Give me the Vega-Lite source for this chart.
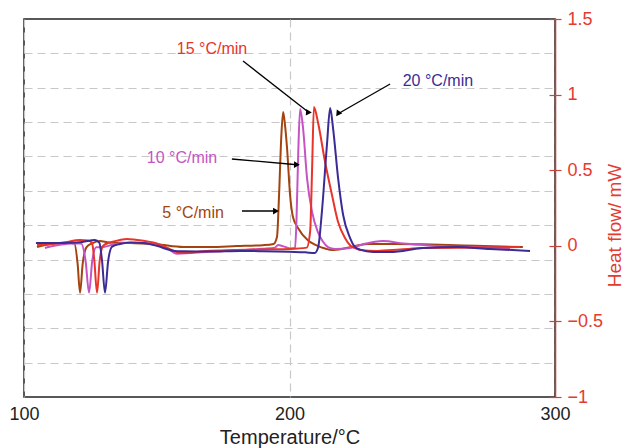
{
  "$schema": "https://vega.github.io/schema/vega-lite/v6.json",
  "width": 531,
  "height": 378,
  "autosize": {"type": "none"},
  "padding": {"left": 24, "top": 19, "right": 70, "bottom": 51},
  "background": "white",
  "config": {"view": {"stroke": "#222", "strokeWidth": 1.5}, "font": "Liberation Sans"},
  "datasets": {
    "series": [
      {"s": "5 °C/min", "t": 104.9, "h": -0.008},
      {"s": "5 °C/min", "t": 108, "h": 0.005},
      {"s": "5 °C/min", "t": 112, "h": 0.015},
      {"s": "5 °C/min", "t": 116, "h": 0.02},
      {"s": "5 °C/min", "t": 119.0, "h": 0.015},
      {"s": "5 °C/min", "t": 120.2, "h": -0.12},
      {"s": "5 °C/min", "t": 121.1, "h": -0.31},
      {"s": "5 °C/min", "t": 122.1, "h": -0.12},
      {"s": "5 °C/min", "t": 123.5, "h": -0.01},
      {"s": "5 °C/min", "t": 125.5, "h": 0.015},
      {"s": "5 °C/min", "t": 128.6, "h": 0.032},
      {"s": "5 °C/min", "t": 132, "h": 0.022},
      {"s": "5 °C/min", "t": 140, "h": 0.018},
      {"s": "5 °C/min", "t": 150, "h": 0.01},
      {"s": "5 °C/min", "t": 160, "h": -0.008},
      {"s": "5 °C/min", "t": 170, "h": -0.008},
      {"s": "5 °C/min", "t": 180, "h": -0.002},
      {"s": "5 °C/min", "t": 190, "h": 0.004},
      {"s": "5 °C/min", "t": 194.0, "h": 0.012},
      {"s": "5 °C/min", "t": 195.3, "h": 0.06},
      {"s": "5 °C/min", "t": 196.1, "h": 0.35},
      {"s": "5 °C/min", "t": 196.9, "h": 0.72},
      {"s": "5 °C/min", "t": 197.6, "h": 0.885},
      {"s": "5 °C/min", "t": 198.3, "h": 0.8},
      {"s": "5 °C/min", "t": 199.1, "h": 0.64},
      {"s": "5 °C/min", "t": 200.2, "h": 0.34},
      {"s": "5 °C/min", "t": 201.3, "h": 0.19},
      {"s": "5 °C/min", "t": 203.2, "h": 0.118},
      {"s": "5 °C/min", "t": 207.0, "h": 0.035},
      {"s": "5 °C/min", "t": 210, "h": 0.005},
      {"s": "5 °C/min", "t": 213.4, "h": -0.018},
      {"s": "5 °C/min", "t": 216.0, "h": -0.028},
      {"s": "5 °C/min", "t": 220, "h": -0.02},
      {"s": "5 °C/min", "t": 224, "h": -0.005},
      {"s": "5 °C/min", "t": 229.2, "h": 0.012},
      {"s": "5 °C/min", "t": 240, "h": 0.012},
      {"s": "5 °C/min", "t": 250, "h": 0.01},
      {"s": "5 °C/min", "t": 260, "h": 0.006},
      {"s": "5 °C/min", "t": 270, "h": 0.0},
      {"s": "5 °C/min", "t": 280, "h": -0.005},
      {"s": "5 °C/min", "t": 287.9, "h": -0.008},

      {"s": "10 °C/min", "t": 107.9, "h": -0.015},
      {"s": "10 °C/min", "t": 110, "h": -0.005},
      {"s": "10 °C/min", "t": 114, "h": 0.008},
      {"s": "10 °C/min", "t": 118, "h": 0.015},
      {"s": "10 °C/min", "t": 121.5, "h": 0.015},
      {"s": "10 °C/min", "t": 123.2, "h": -0.1},
      {"s": "10 °C/min", "t": 124.5, "h": -0.31},
      {"s": "10 °C/min", "t": 125.7, "h": -0.1},
      {"s": "10 °C/min", "t": 127.2, "h": -0.01},
      {"s": "10 °C/min", "t": 130, "h": -0.008},
      {"s": "10 °C/min", "t": 133, "h": 0.005},
      {"s": "10 °C/min", "t": 137, "h": 0.018},
      {"s": "10 °C/min", "t": 142, "h": 0.02},
      {"s": "10 °C/min", "t": 150, "h": 0.008},
      {"s": "10 °C/min", "t": 154, "h": -0.015},
      {"s": "10 °C/min", "t": 157.6, "h": -0.052},
      {"s": "10 °C/min", "t": 162.5, "h": -0.048},
      {"s": "10 °C/min", "t": 170, "h": -0.04},
      {"s": "10 °C/min", "t": 180, "h": -0.03},
      {"s": "10 °C/min", "t": 190, "h": -0.02},
      {"s": "10 °C/min", "t": 194.5, "h": -0.012},
      {"s": "10 °C/min", "t": 195.7, "h": 0.005},
      {"s": "10 °C/min", "t": 197.5, "h": -0.002},
      {"s": "10 °C/min", "t": 200.5, "h": -0.018},
      {"s": "10 °C/min", "t": 202.1, "h": -0.015},
      {"s": "10 °C/min", "t": 202.6, "h": 0.15},
      {"s": "10 °C/min", "t": 203.3, "h": 0.62},
      {"s": "10 °C/min", "t": 204.0, "h": 0.905},
      {"s": "10 °C/min", "t": 205.1, "h": 0.779},
      {"s": "10 °C/min", "t": 206.6, "h": 0.448},
      {"s": "10 °C/min", "t": 208.5, "h": 0.224},
      {"s": "10 °C/min", "t": 210.7, "h": 0.091},
      {"s": "10 °C/min", "t": 212.5, "h": 0.03},
      {"s": "10 °C/min", "t": 214.5, "h": -0.008},
      {"s": "10 °C/min", "t": 217.1, "h": -0.021},
      {"s": "10 °C/min", "t": 222.8, "h": -0.015},
      {"s": "10 °C/min", "t": 228, "h": 0.012},
      {"s": "10 °C/min", "t": 235.2, "h": 0.032},
      {"s": "10 °C/min", "t": 243, "h": 0.015},
      {"s": "10 °C/min", "t": 250.3, "h": 0.005},
      {"s": "10 °C/min", "t": 260, "h": -0.005},
      {"s": "10 °C/min", "t": 270, "h": -0.01},
      {"s": "10 °C/min", "t": 283, "h": -0.015},

      {"s": "15 °C/min", "t": 104.9, "h": 0.005},
      {"s": "15 °C/min", "t": 110, "h": 0.012},
      {"s": "15 °C/min", "t": 115, "h": 0.022},
      {"s": "15 °C/min", "t": 121.1, "h": 0.038},
      {"s": "15 °C/min", "t": 124, "h": 0.035},
      {"s": "15 °C/min", "t": 125.6, "h": 0.02},
      {"s": "15 °C/min", "t": 126.5, "h": -0.1},
      {"s": "15 °C/min", "t": 127.5, "h": -0.31},
      {"s": "15 °C/min", "t": 128.5, "h": -0.1},
      {"s": "15 °C/min", "t": 129.8, "h": 0.0},
      {"s": "15 °C/min", "t": 132.4, "h": 0.022},
      {"s": "15 °C/min", "t": 136, "h": 0.038},
      {"s": "15 °C/min", "t": 138.8, "h": 0.045},
      {"s": "15 °C/min", "t": 142, "h": 0.04},
      {"s": "15 °C/min", "t": 150, "h": 0.015},
      {"s": "15 °C/min", "t": 155, "h": -0.022},
      {"s": "15 °C/min", "t": 158.8, "h": -0.048},
      {"s": "15 °C/min", "t": 162.5, "h": -0.046},
      {"s": "15 °C/min", "t": 168.9, "h": -0.034},
      {"s": "15 °C/min", "t": 180, "h": -0.028},
      {"s": "15 °C/min", "t": 190, "h": -0.024},
      {"s": "15 °C/min", "t": 200, "h": -0.021},
      {"s": "15 °C/min", "t": 206.5, "h": -0.012},
      {"s": "15 °C/min", "t": 207.8, "h": 0.1},
      {"s": "15 °C/min", "t": 208.5, "h": 0.5},
      {"s": "15 °C/min", "t": 209.2, "h": 0.918},
      {"s": "15 °C/min", "t": 210.7, "h": 0.819},
      {"s": "15 °C/min", "t": 213.4, "h": 0.554},
      {"s": "15 °C/min", "t": 216.0, "h": 0.336},
      {"s": "15 °C/min", "t": 218.3, "h": 0.157},
      {"s": "15 °C/min", "t": 220.9, "h": 0.052},
      {"s": "15 °C/min", "t": 223.0, "h": 0.0},
      {"s": "15 °C/min", "t": 224.7, "h": -0.015},
      {"s": "15 °C/min", "t": 226.6, "h": -0.028},
      {"s": "15 °C/min", "t": 233, "h": -0.034},
      {"s": "15 °C/min", "t": 241.6, "h": -0.025},
      {"s": "15 °C/min", "t": 250.3, "h": -0.015},
      {"s": "15 °C/min", "t": 270, "h": -0.012},
      {"s": "15 °C/min", "t": 286.8, "h": -0.008},

      {"s": "20 °C/min", "t": 104.5, "h": 0.019},
      {"s": "20 °C/min", "t": 110, "h": 0.019},
      {"s": "20 °C/min", "t": 117.3, "h": 0.02},
      {"s": "20 °C/min", "t": 122, "h": 0.025},
      {"s": "20 °C/min", "t": 126.7, "h": 0.038},
      {"s": "20 °C/min", "t": 128.4, "h": 0.02},
      {"s": "20 °C/min", "t": 129.4, "h": -0.1},
      {"s": "20 °C/min", "t": 130.5, "h": -0.31},
      {"s": "20 °C/min", "t": 131.7, "h": -0.1},
      {"s": "20 °C/min", "t": 133.2, "h": -0.005},
      {"s": "20 °C/min", "t": 136.2, "h": 0.012},
      {"s": "20 °C/min", "t": 140, "h": 0.022},
      {"s": "20 °C/min", "t": 145, "h": 0.018},
      {"s": "20 °C/min", "t": 150, "h": 0.0},
      {"s": "20 °C/min", "t": 156.1, "h": -0.032},
      {"s": "20 °C/min", "t": 160, "h": -0.036},
      {"s": "20 °C/min", "t": 170, "h": -0.038},
      {"s": "20 °C/min", "t": 181.4, "h": -0.034},
      {"s": "20 °C/min", "t": 190, "h": -0.036},
      {"s": "20 °C/min", "t": 200, "h": -0.04},
      {"s": "20 °C/min", "t": 206, "h": -0.043},
      {"s": "20 °C/min", "t": 209.5, "h": -0.048},
      {"s": "20 °C/min", "t": 210.8, "h": -0.01},
      {"s": "20 °C/min", "t": 212.2, "h": 0.224},
      {"s": "20 °C/min", "t": 214.1, "h": 0.667},
      {"s": "20 °C/min", "t": 215.3, "h": 0.911},
      {"s": "20 °C/min", "t": 216.4, "h": 0.779},
      {"s": "20 °C/min", "t": 218.3, "h": 0.448},
      {"s": "20 °C/min", "t": 220.2, "h": 0.204},
      {"s": "20 °C/min", "t": 222.8, "h": 0.052},
      {"s": "20 °C/min", "t": 224.5, "h": -0.005},
      {"s": "20 °C/min", "t": 226.6, "h": -0.025},
      {"s": "20 °C/min", "t": 231.5, "h": -0.041},
      {"s": "20 °C/min", "t": 237.9, "h": -0.041},
      {"s": "20 °C/min", "t": 250.3, "h": -0.015},
      {"s": "20 °C/min", "t": 263.1, "h": -0.008},
      {"s": "20 °C/min", "t": 275.5, "h": -0.021},
      {"s": "20 °C/min", "t": 290.6, "h": -0.034}
    ],
    "arrows": [
      {"s": "15 °C/min", "t0": 182.5, "h0": 1.222, "t1": 207.3, "h1": 0.882},
      {"s": "20 °C/min", "t0": 237.9, "h0": 1.07, "t1": 218.8, "h1": 0.878},
      {"s": "10 °C/min", "t0": 178.3, "h0": 0.574, "t1": 202.8, "h1": 0.536},
      {"s": "5 °C/min", "t0": 182.1, "h0": 0.23, "t1": 194.9, "h1": 0.23}
    ],
    "labels": [
      {"s": "15 °C/min", "t": 170.8, "h": 1.302},
      {"s": "20 °C/min", "t": 255.9, "h": 1.09},
      {"s": "10 °C/min", "t": 159.5, "h": 0.581},
      {"s": "5 °C/min", "t": 163.7, "h": 0.217}
    ]
  },
  "encoding": {
    "x": {"type": "quantitative", "scale": {"domain": [100, 300], "nice": false},
      "axis": {"values": [100, 200, 300], "grid": true, "gridColor": "#c8c8c8", "gridDash": [8, 5], "gridWidth": 1.2,
        "ticks": false, "domain": false, "labelFlush": false, "labelFontSize": 18, "labelColor": "#222", "labelPadding": 8,
        "title": "Temperature/°C", "titleFontSize": 20, "titleFontWeight": "normal", "titleColor": "#222", "titlePadding": 4}}
  },
  "layer": [
    {
      "data": {"name": "series"},
      "mark": {"type": "point", "opacity": 0},
      "encoding": {
        "x": {"field": "t"},
        "y": {"field": "h", "type": "quantitative", "scale": {"domain": [-1, 1.5], "nice": false},
          "axis": {"orient": "left", "grid": true, "values": [1.27273, 1.04545, 0.81818, 0.59091, 0.36364, 0.13636, -0.09091, -0.31818, -0.54545, -0.77273],
            "labels": false, "ticks": false, "domain": false, "title": null,
            "gridColor": "#c8c8c8", "gridDash": [8, 5], "gridWidth": 1.2}}
      }
    },
    {
      "data": {"name": "series"},
      "mark": {"type": "line", "interpolate": "monotone", "strokeWidth": 2},
      "encoding": {
        "x": {"field": "t"},
        "y": {"field": "h", "type": "quantitative",
          "axis": {"orient": "right", "values": [-1, -0.5, 0, 0.5, 1, 1.5], "format": "~g", "grid": false,
            "domainColor": "#b5443b", "domainWidth": 1.5, "tickColor": "#c9443a", "tickSize": 6, "tickWidth": 1.2,
            "labelColor": "#e53a2f", "labelFontSize": 18, "labelPadding": 6,
            "title": "Heat flow/ mW", "titleColor": "#e53a2f", "titleFontSize": 19, "titleFontWeight": "normal",
            "titleAngle": 270, "titleBaseline": "middle", "titleX": 59, "titleY": 206}},
        "color": {"field": "s", "type": "nominal",
          "scale": {"domain": ["5 °C/min", "10 °C/min", "15 °C/min", "20 °C/min"], "range": ["#a3430f", "#c653c3", "#e8342a", "#3b2b95"]},
          "legend": null}
      }
    },
    {
      "data": {"name": "arrows"},
      "mark": {"type": "rule", "color": "#000", "strokeWidth": 1.3},
      "encoding": {
        "x": {"field": "t0"},
        "y": {"field": "h0", "type": "quantitative",
          "axis": {"orient": "right", "offset": -6, "values": [-1, -0.5, 0, 0.5, 1, 1.5], "grid": false,
            "labels": false, "domain": false, "title": null,
            "tickColor": "#c9443a", "tickSize": 6, "tickWidth": 1.2}},
        "x2": {"field": "t1"},
        "y2": {"field": "h1"}
      }
    },
    {
      "data": {"name": "arrows"},
      "mark": {"type": "point", "shape": "triangle-up", "filled": true, "color": "#000", "opacity": 1, "size": 45},
      "encoding": {
        "x": {"field": "t1"},
        "y": {"field": "h1", "type": "quantitative", "axis": null},
        "angle": {"field": "s", "type": "nominal", "legend": null,
          "scale": {"domain": ["5 °C/min", "10 °C/min", "15 °C/min", "20 °C/min"], "range": [90, 95, 128, 240]}}
      }
    },
    {
      "data": {"name": "labels"},
      "mark": {"type": "text", "fontSize": 16, "align": "center", "baseline": "middle"},
      "encoding": {
        "x": {"field": "t"},
        "y": {"field": "h", "type": "quantitative", "axis": null},
        "text": {"field": "s"},
        "color": {"field": "s", "type": "nominal", "legend": null}
      }
    }
  ],
  "resolve": {"axis": {"y": "independent"}}
}
